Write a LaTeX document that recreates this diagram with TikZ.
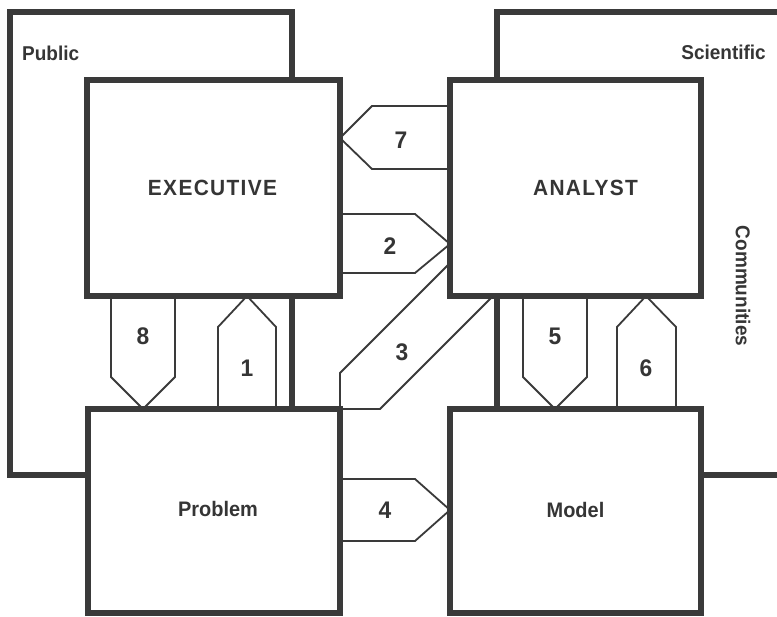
\documentclass[tikz,border=0pt]{standalone}
\usepackage{fontspec}
\setmainfont{Liberation Sans}[FakeStretch=0.95]
\usetikzlibrary{calc}
\definecolor{ink}{HTML}{3A3A3A}
\definecolor{lettering}{HTML}{353535}
\tikzset{
  frame/.style={draw=ink, line width=6.5pt, line join=miter},
  box/.style={draw=ink, line width=6.5pt, fill=white, rectangle,
    inner sep=0pt, outer sep=0pt, text=lettering,
    font=\fontsize{21}{25}\selectfont\bfseries},
  flow/.style={draw=ink, line width=1.8pt, line join=miter},
  num/.style={text=lettering, inner sep=0pt,
    font=\fontsize{24}{28}\selectfont\bfseries},
  tag/.style={text=lettering, inner sep=0pt,
    font=\fontsize{20}{24}\selectfont\bfseries},
  caps/.style={font=\fontsize{22}{26}\selectfont\bfseries\addfontfeature{LetterSpace=6}},
}
\begin{document}
\begin{tikzpicture}[x=1pt,y=-1pt]
\useasboundingbox (0,0) rectangle (777,617);
\fill[white] (0,0) rectangle (777,617);

% community frames
\draw[frame] (10,12) rectangle (292,475);
\draw[frame] (777,12) -- (497,12) -- (497,475) -- (777,475);
\node[tag, anchor=west] (public) at (22,53) {Public};
\node[tag, anchor=east] (scientific) at (766,52) {Scientific};
\node[tag, rotate=-90] (communities) at (743,286) {Communities};

% the four actors
\node[box, caps, minimum width=253pt, minimum height=216pt] (exec) at (213.5,188)
  {\hspace*{-2pt}EXECUTIVE};
\node[box, caps, minimum width=251pt, minimum height=216pt] (ana) at (575.5,188)
  {\hspace*{20pt}ANALYST};
\node[box, minimum width=252pt, minimum height=204pt] (prob) at (214,511)
  {\raisebox{4pt}{\hspace*{8pt}Problem}};
\node[box, minimum width=251pt, minimum height=204pt] (mod) at (575.5,511)
  {\raisebox{3pt}{Model}};

% flows between them
\draw[flow] (ana.west |- 0,106) -- (372,106) -- (exec.east |- 0,138)
  -- (372,169) -- (ana.west |- 0,169);
\draw[flow] (exec.east |- 0,214) -- (415,214) -- (ana.west |- 0,244)
  -- (415,273) -- (exec.east |- 0,273);
\draw[flow] (ana.west |- 0,263) -- (340,373) -- (prob.north east)
  -- (380,409) -- (ana.south -| 493,0);
\draw[flow] (prob.east |- 0,479) -- (415,479) -- (mod.west |- 0,510)
  -- (415,541) -- (prob.east |- 0,541);
\draw[flow] (exec.south -| 111,0) -- (111,377) -- (prob.north -| 143,0)
  -- (175,377) -- (exec.south -| 175,0);
\draw[flow] (prob.north -| 218,0) -- (218,327) -- (exec.south -| 247,0)
  -- (276,327) -- (prob.north -| 276,0);
\draw[flow] (ana.south -| 523,0) -- (523,377) -- (mod.north -| 555,0)
  -- (587,377) -- (ana.south -| 587,0);
\draw[flow] (mod.north -| 617,0) -- (617,327) -- (ana.south -| 646,0)
  -- (676,327) -- (mod.north -| 676,0);

\node[num] (n7) at (401,140) {7};
\node[num] (n2) at (390,246) {2};
\node[num] (n3) at (402,352) {3};
\node[num] (n4) at (385,510) {4};
\node[num] (n8) at (143,336) {8};
\node[num] (n1) at (247,368) {1};
\node[num] (n5) at (555,336) {5};
\node[num] (n6) at (646,368) {6};
\end{tikzpicture}
\end{document}
